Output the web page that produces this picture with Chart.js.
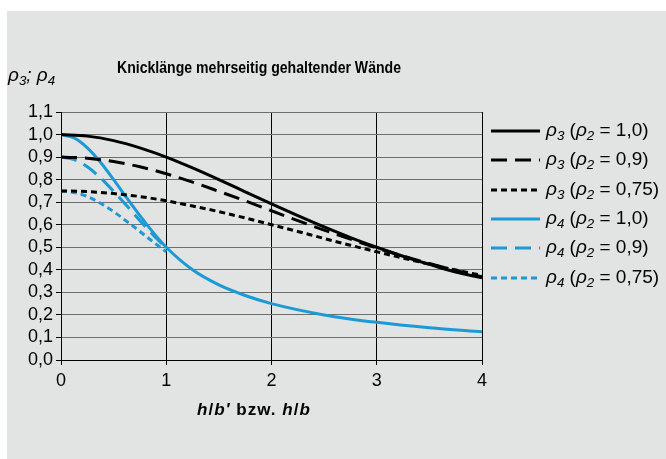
<!DOCTYPE html>
<html>
<head>
<meta charset="utf-8">
<script src="https://cdn.jsdelivr.net/npm/chart.js@4"></script>
<style>
  body { margin: 0; background: #fff; }
  #panel { position: absolute; left: 7px; top: 11px; width: 659px; height: 448px; background: #e2e3e3; }
  #wrap { position: absolute; left: 0; top: 0; width: 666px; height: 459px; }
  .txt { position: absolute; font-family: "Liberation Sans", Arial, sans-serif; color: #000; white-space: nowrap; }
  #title { left: 117px; top: 59px; font-size: 16px; font-weight: bold; transform: scaleX(0.88); transform-origin: left center; }
  #ylab { left: 8px; top: 64px; font-size: 19px; font-style: italic; }
  #xlab { left: 197px; top: 400px; font-size: 17px; font-weight: bold; letter-spacing: 1px; }
  sub { font-size: 70%; vertical-align: -0.3em; }
  #legend { position: absolute; left: 490px; top: 120px; }
  .row { position: absolute; left: 0; height: 24px; font-family: "Liberation Sans", Arial, sans-serif; font-size: 19px; white-space: nowrap; }
  .row svg { position: absolute; left: 0; top: 6px; }
  .row span { position: absolute; left: 56px; top: -1px; }
</style>
</head>
<body>
<div id="panel"></div>
<div id="wrap"><canvas id="chart"></canvas></div>
<div id="title" class="txt">Knicklänge mehrseitig gehaltender Wände</div>
<div id="ylab" class="txt">ρ<sub>3</sub>; ρ<sub>4</sub></div>
<div id="xlab" class="txt"><i>h</i>/<i>b′</i> bzw. <i>h</i>/<i>b</i></div>
<div id="legend"></div>
<script>
// x-Werte (h/b' bzw. h/b)
const xRho3 = [0, 0.25, 0.5, 0.75, 1, 1.25, 1.5, 1.75, 2, 2.25, 2.5, 2.75, 3, 3.25, 3.5, 3.75, 4];
const xRho4Short = [0, 0.125, 0.25, 0.375, 0.5, 0.625, 0.75, 0.875, 1];
const xRho4Long = [0, 0.125, 0.25, 0.375, 0.5, 0.625, 0.75, 0.875, 1, 1.25, 1.5, 1.75, 2, 2.5, 3, 3.5, 4];

// rho3 fuer rho2 = 1,0 / 0,9 / 0,75
const rho3_10 = [1.0, 0.993, 0.973, 0.941, 0.9, 0.852, 0.8, 0.746, 0.692, 0.64, 0.59, 0.543, 0.5, 0.46, 0.424, 0.39, 0.365];
const rho3_09 = [0.9, 0.895, 0.88, 0.857, 0.826, 0.789, 0.748, 0.706, 0.662, 0.618, 0.576, 0.536, 0.497, 0.461, 0.428, 0.397, 0.369];
const rho3_075 = [0.75, 0.747, 0.738, 0.725, 0.706, 0.683, 0.658, 0.63, 0.6, 0.57, 0.539, 0.509, 0.48, 0.452, 0.425, 0.399, 0.375];

// rho4 fuer rho2 = 1,0 / 0,9 / 0,75
const rho4_10 = [1.0, 0.985, 0.941, 0.877, 0.8, 0.719, 0.64, 0.566, 0.5, 0.4, 0.333, 0.286, 0.25, 0.2, 0.167, 0.143, 0.125];
const rho4_09 = [0.9, 0.889, 0.857, 0.808, 0.748, 0.684, 0.618, 0.555, 0.497];
const rho4_075 = [0.75, 0.743, 0.725, 0.695, 0.658, 0.615, 0.57, 0.524, 0.48];

const yTicks = [0, 0.1, 0.2, 0.3, 0.4, 0.5, 0.6, 0.7, 0.8, 0.9, 1.0, 1.1];
const xTicks = [0, 1, 2, 3, 4];

const legendLabels = [
    ['3', '1,0'], ['3', '0,9'], ['3', '0,75'],
    ['4', '1,0'], ['4', '0,9'], ['4', '0,75']
];

const BLACK = '#000000';
const BLUE = '#1b9ad6';
const LONG_DASH = [16, 8];
const SHORT_DASH = [6, 4];

function pts(xs, ys) {
    return xs.map((x, i) => ({ x: x, y: ys[i] }));
}

function series(xs, ys, color, dash) {
    return {
        data: pts(xs, ys),
        borderColor: color,
        borderWidth: 3,
        borderDash: dash,
        pointRadius: 0,
        showLine: true,
        fill: false,
        cubicInterpolationMode: 'monotone'
    };
}

const styles = [
    [BLACK, []], [BLACK, LONG_DASH], [BLACK, SHORT_DASH],
    [BLUE, []], [BLUE, LONG_DASH], [BLUE, SHORT_DASH]
];

const datasets = [
    series(xRho3, rho3_10, BLACK, []),
    series(xRho3, rho3_09, BLACK, LONG_DASH),
    series(xRho3, rho3_075, BLACK, SHORT_DASH),
    series(xRho4Long, rho4_10, BLUE, []),
    series(xRho4Short, rho4_09, BLUE, LONG_DASH),
    series(xRho4Short, rho4_075, BLUE, SHORT_DASH)
];

const tickFont = { family: 'Liberation Sans', size: 18 };

const ctx = document.getElementById('chart').getContext('2d');
const chart = new Chart(ctx, {
    type: 'scatter',
    data: { datasets: datasets },
    options: {
        responsive: true,
        maintainAspectRatio: false,
        animation: false,
        layout: { padding: { left: 0, top: 112, right: 184, bottom: 0 } },
        plugins: { legend: { display: false }, tooltip: { enabled: false } },
        scales: {
            x: {
                type: 'linear',
                min: 0, max: 4,
                afterBuildTicks: s => { s.ticks = xTicks.map(v => ({ value: v })); },
                afterFit: s => { s.height = 99; },
                grid: { color: BLACK, lineWidth: 1, tickLength: 5, tickColor: BLACK },
                border: { color: BLACK, width: 1 },
                ticks: {
                    color: BLACK, padding: 5, autoSkip: false, maxRotation: 0,
                    font: tickFont,
                    callback: v => String(v)
                }
            },
            y: {
                min: 0, max: 1.1,
                afterBuildTicks: s => { s.ticks = yTicks.map(v => ({ value: v })); },
                afterFit: s => { s.width = 61; },
                grid: { color: '#6e6e6e', lineWidth: 1, tickLength: 5, tickColor: BLACK },
                border: { color: BLACK, width: 1 },
                ticks: {
                    color: BLACK, padding: 3, autoSkip: false,
                    font: tickFont,
                    callback: v => v.toFixed(1).replace('.', ',')
                }
            }
        }
    }
});

// Legende mit tiefgestellten Indizes
const legend = document.getElementById('legend');
legendLabels.forEach((lab, i) => {
    const row = document.createElement('div');
    row.className = 'row';
    row.style.top = (i * 29.3) + 'px';
    const [color, dash] = styles[i];
    row.innerHTML =
        '<svg width="52" height="10"><line x1="1" y1="5" x2="50" y2="5" stroke="' + color +
        '" stroke-width="3" stroke-dasharray="' + (dash.length ? dash.join(',') : 'none') + '"/></svg>' +
        '<span><i>ρ<sub>' + lab[0] + '</sub></i> (<i>ρ<sub>2</sub></i> = ' + lab[1] + ')</span>';
    legend.appendChild(row);
});
</script>
</body>
</html>
